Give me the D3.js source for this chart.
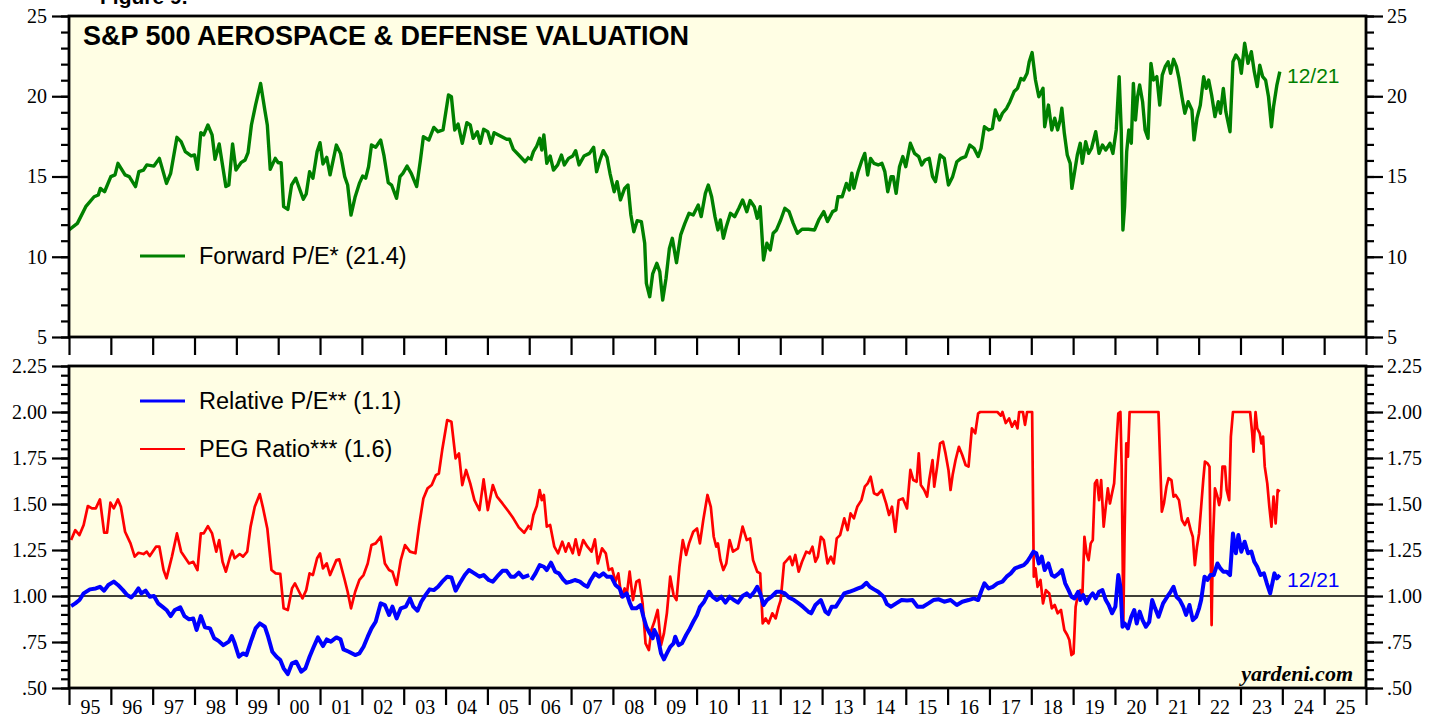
<!DOCTYPE html>
<html>
<head>
<meta charset="utf-8">
<script src="https://cdn.jsdelivr.net/npm/d3@7"></script>
<style>
  body { margin: 0; background: #fff; }
  svg { display: block; }
</style>
</head>
<body>
<div id="chart"></div>
<script>
// weekly-ish readings, [decimal year, value]; null marks a gap in the series
var forwardPE = [[1995.0,11.67],[1995.2,12.08],[1995.4,13.12],[1995.6,13.74],[1995.7,13.85],[1995.75,14.26],[1995.85,14.05],[1996.0,14.99],[1996.1,15.1],[1996.17,15.82],[1996.34,15.1],[1996.44,14.99],[1996.59,14.37],[1996.67,15.3],[1996.78,15.4],[1996.86,15.72],[1997.03,15.65],[1997.16,16.13],[1997.33,14.57],[1997.43,15.2],[1997.58,17.44],[1997.68,17.17],[1997.78,16.55],[1997.92,16.28],[1998.0,16.34],[1998.07,15.45],[1998.15,17.73],[1998.22,17.59],[1998.32,18.21],[1998.42,17.59],[1998.49,16.07],[1998.59,17.03],[1998.75,14.37],[1998.82,14.47],[1998.91,17.03],[1998.99,15.4],[1999.11,15.86],[1999.21,16.03],[1999.28,16.49],[1999.36,18.21],[1999.46,19.46],[1999.58,20.8],[1999.68,19.14],[1999.74,18.21],[1999.81,15.45],[1999.93,16.13],[2000.0,15.86],[2000.07,15.86],[2000.13,13.12],[2000.23,12.95],[2000.32,14.47],[2000.42,14.89],[2000.6,13.58],[2000.67,13.91],[2000.75,15.3],[2000.83,14.89],[2000.93,16.55],[2001.0,17.11],[2001.07,15.78],[2001.16,16.19],[2001.24,15.1],[2001.39,16.96],[2001.49,16.44],[2001.59,14.99],[2001.66,14.47],[2001.74,12.6],[2001.84,13.74],[2001.94,14.57],[2002.02,15.03],[2002.09,14.89],[2002.16,15.61],[2002.23,16.96],[2002.33,16.82],[2002.45,17.27],[2002.53,16.28],[2002.63,14.62],[2002.71,14.47],[2002.83,13.64],[2002.91,14.99],[2002.98,15.2],[2003.08,15.65],[2003.18,15.2],[2003.31,14.37],[2003.4,16.03],[2003.47,17.48],[2003.6,17.27],[2003.72,18.06],[2003.82,17.79],[2003.94,17.9],[2004.07,20.08],[2004.14,19.97],[2004.22,17.9],[2004.3,18.27],[2004.4,17.07],[2004.51,18.35],[2004.59,18.21],[2004.66,17.38],[2004.76,17.79],[2004.83,17.07],[2004.91,17.94],[2005.01,17.79],[2005.09,17.07],[2005.16,17.73],[2005.31,17.52],[2005.46,17.32],[2005.53,17.32],[2005.62,16.69],[2005.75,16.34],[2005.9,15.92],[2006.0,16.24],[2006.015,null],[2006.03,15.99],[2006.1,16.55],[2006.18,16.9],[2006.25,17.38],[2006.3,16.65],[2006.35,17.59],[2006.42,15.82],[2006.5,16.28],[2006.58,15.4],[2006.68,15.72],[2006.77,16.34],[2006.84,15.72],[2006.94,16.13],[2007.04,16.28],[2007.11,16.61],[2007.19,15.72],[2007.31,16.28],[2007.44,16.44],[2007.54,16.82],[2007.61,15.3],[2007.69,16.03],[2007.77,16.61],[2007.86,16.19],[2007.93,15.2],[2008.03,14.05],[2008.1,14.68],[2008.18,13.54],[2008.28,14.26],[2008.36,14.47],[2008.43,12.6],[2008.5,11.56],[2008.58,12.25],[2008.68,12.19],[2008.76,10.84],[2008.8,8.34],[2008.88,7.51],[2008.95,8.93],[2009.05,9.59],[2009.12,9.07],[2009.19,7.3],[2009.27,8.66],[2009.35,10.52],[2009.42,11.15],[2009.52,9.63],[2009.62,11.36],[2009.72,12.08],[2009.82,12.71],[2009.92,12.6],[2010.04,13.22],[2010.11,12.5],[2010.21,13.95],[2010.28,14.47],[2010.36,13.74],[2010.44,12.5],[2010.51,11.67],[2010.57,12.29],[2010.64,11.15],[2010.71,11.87],[2010.81,12.71],[2010.91,12.5],[2011.01,13.02],[2011.1,13.54],[2011.2,12.81],[2011.28,13.5],[2011.38,13.12],[2011.45,12.39],[2011.52,13.12],[2011.6,9.8],[2011.68,10.84],[2011.76,10.42],[2011.83,11.46],[2011.91,11.67],[2012.01,12.29],[2012.11,13.02],[2012.21,12.81],[2012.31,12.08],[2012.41,11.46],[2012.52,11.71],[2012.67,11.71],[2012.82,11.67],[2012.92,12.29],[2013.04,12.81],[2013.13,12.19],[2013.25,12.81],[2013.33,12.91],[2013.38,13.74],[2013.48,13.74],[2013.58,14.57],[2013.65,14.16],[2013.71,15.2],[2013.76,14.26],[2013.86,15.3],[2013.94,15.92],[2014.02,16.44],[2014.09,15.09],[2014.16,16.13],[2014.24,15.82],[2014.34,15.72],[2014.43,15.82],[2014.5,15.3],[2014.57,14.05],[2014.65,14.99],[2014.7,14.99],[2014.77,13.95],[2014.85,15.61],[2014.93,16.24],[2015.0,15.61],[2015.11,17.07],[2015.21,16.44],[2015.31,16.24],[2015.38,15.72],[2015.46,16.03],[2015.56,16.13],[2015.64,14.99],[2015.71,14.68],[2015.82,16.34],[2015.92,16.13],[2016.02,14.47],[2016.12,14.99],[2016.22,15.92],[2016.32,16.13],[2016.43,16.24],[2016.53,16.96],[2016.63,16.76],[2016.73,16.24],[2016.8,16.76],[2016.88,18.1],[2016.98,17.9],[2017.07,18.0],[2017.14,19.14],[2017.24,18.52],[2017.31,18.94],[2017.41,19.25],[2017.49,19.66],[2017.59,20.29],[2017.67,20.49],[2017.75,21.11],[2017.82,21.01],[2017.9,21.43],[2017.95,22.15],[2018.02,22.72],[2018.1,21.01],[2018.18,19.97],[2018.28,20.49],[2018.32,18.1],[2018.41,19.45],[2018.49,17.9],[2018.56,18.63],[2018.63,17.9],[2018.69,18.52],[2018.73,19.25],[2018.79,17.69],[2018.86,16.34],[2018.93,15.82],[2018.97,14.26],[2019.03,15.2],[2019.1,16.34],[2019.17,17.07],[2019.22,15.82],[2019.3,17.17],[2019.37,16.44],[2019.44,16.76],[2019.54,17.79],[2019.62,16.44],[2019.7,16.96],[2019.78,16.65],[2019.88,17.07],[2019.95,16.44],[2020.03,17.9],[2020.1,21.22],[2020.15,17.9],[2020.19,11.67],[2020.23,13.12],[2020.28,16.55],[2020.33,17.9],[2020.39,17.07],[2020.44,20.8],[2020.49,18.52],[2020.54,19.97],[2020.59,20.7],[2020.66,19.66],[2020.72,17.9],[2020.79,17.38],[2020.86,22.05],[2020.92,21.01],[2021.0,21.22],[2021.07,19.45],[2021.13,21.32],[2021.2,21.84],[2021.27,22.15],[2021.33,21.43],[2021.4,22.3],[2021.47,21.84],[2021.53,21.11],[2021.6,19.97],[2021.67,18.94],[2021.75,19.66],[2021.84,19.14],[2021.89,17.28],[2021.96,18.63],[2022.04,19.45],[2022.12,21.22],[2022.18,20.49],[2022.24,21.01],[2022.31,20.08],[2022.39,18.73],[2022.47,19.66],[2022.52,18.94],[2022.59,20.49],[2022.65,19.04],[2022.75,17.79],[2022.82,22.15],[2022.89,22.57],[2022.97,22.26],[2023.02,21.43],[2023.1,23.3],[2023.18,22.05],[2023.26,22.78],[2023.33,21.53],[2023.4,20.6],[2023.46,21.94],[2023.53,21.22],[2023.6,21.01],[2023.67,19.97],[2023.74,18.1],[2023.79,19.35],[2023.87,20.7],[2023.94,21.53]];

var relativePE = [[1995.05,0.945],[1995.15,0.96],[1995.25,0.978],[1995.35,1.014],[1995.5,1.036],[1995.64,1.041],[1995.74,1.05],[1995.84,1.029],[1995.94,1.06],[1996.07,1.078],[1996.17,1.06],[1996.29,1.032],[1996.39,1.005],[1996.49,0.992],[1996.57,1.011],[1996.66,1.041],[1996.73,1.014],[1996.83,1.029],[1996.93,0.996],[1997.03,1.0],[1997.13,0.96],[1997.23,0.942],[1997.33,0.924],[1997.43,0.891],[1997.53,0.924],[1997.66,0.938],[1997.76,0.891],[1997.87,0.873],[1997.97,0.878],[1998.05,0.815],[1998.15,0.891],[1998.25,0.83],[1998.37,0.824],[1998.47,0.77],[1998.57,0.757],[1998.69,0.733],[1998.82,0.752],[1998.89,0.782],[1998.96,0.743],[1999.06,0.67],[1999.16,0.688],[1999.24,0.679],[1999.36,0.761],[1999.46,0.824],[1999.56,0.851],[1999.68,0.833],[1999.76,0.779],[1999.86,0.697],[1999.96,0.67],[2000.05,0.652],[2000.13,0.607],[2000.23,0.576],[2000.33,0.634],[2000.43,0.643],[2000.55,0.589],[2000.65,0.607],[2000.75,0.67],[2000.85,0.724],[2000.95,0.775],[2001.07,0.728],[2001.16,0.764],[2001.26,0.752],[2001.39,0.775],[2001.49,0.764],[2001.56,0.71],[2001.69,0.697],[2001.84,0.679],[2001.94,0.688],[2002.04,0.724],[2002.14,0.779],[2002.23,0.824],[2002.33,0.86],[2002.45,0.96],[2002.55,0.951],[2002.65,0.897],[2002.73,0.942],[2002.83,0.878],[2002.93,0.933],[2003.05,0.942],[2003.15,0.987],[2003.23,0.942],[2003.33,0.92],[2003.42,0.969],[2003.52,1.005],[2003.62,1.036],[2003.72,1.032],[2003.82,1.05],[2003.92,1.078],[2004.04,1.105],[2004.14,1.101],[2004.24,1.029],[2004.34,1.069],[2004.46,1.114],[2004.56,1.141],[2004.69,1.123],[2004.81,1.105],[2004.91,1.114],[2005.03,1.087],[2005.13,1.078],[2005.23,1.105],[2005.36,1.137],[2005.46,1.137],[2005.56,1.105],[2005.65,1.105],[2005.75,1.127],[2005.85,1.101],[2006.0,1.114],[2006.02,null],[2006.05,1.087],[2006.15,1.123],[2006.25,1.168],[2006.35,1.159],[2006.42,1.141],[2006.52,1.181],[2006.62,1.132],[2006.71,1.123],[2006.81,1.09],[2006.89,1.072],[2006.99,1.078],[2007.09,1.087],[2007.21,1.078],[2007.31,1.06],[2007.39,1.05],[2007.47,1.087],[2007.57,1.123],[2007.67,1.105],[2007.77,1.123],[2007.86,1.105],[2007.96,1.105],[2008.06,1.06],[2008.16,1.041],[2008.23,0.996],[2008.33,1.014],[2008.4,0.964],[2008.46,0.933],[2008.56,0.933],[2008.66,0.951],[2008.73,0.887],[2008.8,0.833],[2008.88,0.797],[2008.95,0.77],[2008.99,0.815],[2009.07,0.779],[2009.15,0.688],[2009.22,0.656],[2009.29,0.688],[2009.37,0.724],[2009.45,0.743],[2009.49,0.779],[2009.57,0.733],[2009.65,0.743],[2009.75,0.788],[2009.82,0.815],[2009.92,0.86],[2010.01,0.897],[2010.08,0.94],[2010.18,0.969],[2010.26,1.005],[2010.3,1.023],[2010.38,0.996],[2010.49,0.978],[2010.59,0.996],[2010.69,0.964],[2010.79,0.996],[2010.89,0.978],[2010.99,0.964],[2011.1,1.0],[2011.2,1.014],[2011.28,0.996],[2011.38,1.023],[2011.45,1.05],[2011.52,1.014],[2011.6,0.951],[2011.68,0.978],[2011.79,0.996],[2011.91,1.023],[2012.01,1.023],[2012.11,1.014],[2012.21,0.992],[2012.33,0.978],[2012.44,0.96],[2012.54,0.942],[2012.67,0.915],[2012.74,0.906],[2012.84,0.951],[2012.97,0.978],[2013.08,0.915],[2013.15,0.902],[2013.23,0.942],[2013.33,0.942],[2013.43,0.978],[2013.53,1.014],[2013.65,1.023],[2013.76,1.032],[2013.86,1.041],[2013.96,1.05],[2014.06,1.072],[2014.14,1.05],[2014.24,1.036],[2014.34,1.023],[2014.47,0.996],[2014.55,0.956],[2014.65,0.942],[2014.77,0.96],[2014.9,0.978],[2015.03,0.975],[2015.16,0.978],[2015.28,0.942],[2015.41,0.942],[2015.54,0.96],[2015.66,0.978],[2015.79,0.982],[2015.92,0.969],[2016.07,0.978],[2016.22,0.951],[2016.35,0.969],[2016.5,0.978],[2016.63,0.987],[2016.73,0.978],[2016.8,1.023],[2016.88,1.069],[2016.98,1.041],[2017.08,1.05],[2017.19,1.069],[2017.31,1.078],[2017.41,1.105],[2017.51,1.123],[2017.61,1.15],[2017.71,1.159],[2017.82,1.168],[2017.9,1.186],[2017.98,1.214],[2018.05,1.241],[2018.12,1.232],[2018.18,1.177],[2018.25,1.214],[2018.32,1.141],[2018.41,1.177],[2018.49,1.114],[2018.56,1.105],[2018.66,1.123],[2018.73,1.141],[2018.81,1.069],[2018.89,1.032],[2018.96,0.996],[2019.03,0.987],[2019.12,1.023],[2019.17,0.978],[2019.24,1.005],[2019.32,0.96],[2019.4,0.996],[2019.47,1.014],[2019.54,0.987],[2019.62,1.023],[2019.7,1.032],[2019.78,0.978],[2019.85,0.951],[2019.93,0.906],[2020.01,0.942],[2020.08,1.114],[2020.13,1.05],[2020.18,0.833],[2020.23,0.851],[2020.31,0.824],[2020.39,0.887],[2020.46,0.924],[2020.52,0.851],[2020.59,0.915],[2020.66,0.869],[2020.74,0.833],[2020.82,0.86],[2020.89,0.978],[2020.96,0.933],[2021.04,0.887],[2021.15,0.96],[2021.25,0.996],[2021.33,1.023],[2021.4,1.05],[2021.47,0.996],[2021.55,0.978],[2021.63,0.942],[2021.7,0.897],[2021.78,0.951],[2021.86,0.869],[2021.94,0.887],[2022.01,0.933],[2022.06,0.978],[2022.14,1.105],[2022.21,1.087],[2022.28,1.114],[2022.36,1.114],[2022.45,1.177],[2022.52,1.15],[2022.59,1.132],[2022.67,1.132],[2022.75,1.114],[2022.82,1.34],[2022.89,1.232],[2022.95,1.331],[2023.02,1.241],[2023.1,1.295],[2023.18,1.232],[2023.26,1.241],[2023.33,1.186],[2023.4,1.159],[2023.48,1.114],[2023.56,1.123],[2023.63,1.069],[2023.71,1.014],[2023.77,1.078],[2023.81,1.123],[2023.87,1.096],[2023.94,1.114]];

var pegRatio = [[1995.05,1.304],[1995.15,1.358],[1995.25,1.331],[1995.35,1.386],[1995.45,1.489],[1995.55,1.476],[1995.64,1.476],[1995.74,1.525],[1995.84,1.344],[1995.91,1.344],[1995.99,1.507],[1996.07,1.476],[1996.17,1.525],[1996.24,1.485],[1996.34,1.349],[1996.47,1.286],[1996.57,1.214],[1996.66,1.235],[1996.78,1.228],[1996.86,1.241],[1996.93,1.217],[1997.08,1.268],[1997.16,1.268],[1997.26,1.141],[1997.33,1.096],[1997.46,1.214],[1997.58,1.34],[1997.68,1.241],[1997.87,1.177],[1997.97,1.186],[1998.07,1.141],[1998.15,1.34],[1998.22,1.34],[1998.32,1.38],[1998.42,1.34],[1998.52,1.241],[1998.59,1.304],[1998.67,1.186],[1998.75,1.132],[1998.85,1.214],[1998.9,1.246],[1998.96,1.205],[1999.08,1.228],[1999.16,1.214],[1999.26,1.241],[1999.34,1.377],[1999.44,1.485],[1999.56,1.554],[1999.64,1.476],[1999.74,1.367],[1999.84,1.141],[1999.94,1.123],[2000.05,1.12],[2000.13,0.933],[2000.23,0.924],[2000.33,1.041],[2000.4,1.069],[2000.5,1.023],[2000.58,0.987],[2000.67,1.032],[2000.75,1.123],[2000.83,1.114],[2000.93,1.205],[2001.0,1.232],[2001.07,1.15],[2001.16,1.177],[2001.24,1.114],[2001.39,1.195],[2001.46,1.199],[2001.59,1.087],[2001.66,1.023],[2001.74,0.933],[2001.84,1.023],[2001.94,1.087],[2002.04,1.114],[2002.14,1.177],[2002.23,1.277],[2002.33,1.286],[2002.45,1.322],[2002.55,1.177],[2002.65,1.141],[2002.73,1.132],[2002.83,1.06],[2002.93,1.195],[2003.03,1.277],[2003.15,1.241],[2003.28,1.232],[2003.37,1.386],[2003.47,1.53],[2003.57,1.585],[2003.67,1.603],[2003.77,1.657],[2003.84,1.666],[2003.92,1.793],[2004.04,1.956],[2004.14,1.947],[2004.24,1.748],[2004.32,1.775],[2004.4,1.603],[2004.49,1.685],[2004.59,1.612],[2004.69,1.521],[2004.81,1.467],[2004.91,1.634],[2005.01,1.467],[2005.13,1.603],[2005.23,1.54],[2005.36,1.503],[2005.51,1.458],[2005.62,1.422],[2005.75,1.373],[2005.88,1.344],[2006.0,1.386],[2006.015,null],[2006.03,1.358],[2006.1,1.44],[2006.18,1.489],[2006.25,1.576],[2006.3,1.521],[2006.35,1.549],[2006.42,1.377],[2006.5,1.386],[2006.6,1.268],[2006.69,1.232],[2006.79,1.295],[2006.87,1.241],[2006.94,1.286],[2007.04,1.232],[2007.11,1.308],[2007.19,1.223],[2007.29,1.304],[2007.39,1.268],[2007.49,1.241],[2007.57,1.308],[2007.64,1.177],[2007.74,1.259],[2007.83,1.232],[2007.9,1.141],[2007.98,1.15],[2008.06,1.078],[2008.13,1.123],[2008.2,0.996],[2008.28,1.041],[2008.33,1.005],[2008.4,1.132],[2008.48,0.978],[2008.56,1.078],[2008.63,1.087],[2008.71,0.96],[2008.78,0.743],[2008.86,0.706],[2008.92,0.815],[2008.99,0.86],[2009.07,0.924],[2009.15,0.733],[2009.22,0.797],[2009.29,0.906],[2009.37,1.105],[2009.45,1.005],[2009.52,0.978],[2009.59,1.159],[2009.67,1.304],[2009.75,1.223],[2009.82,1.286],[2009.92,1.349],[2010.01,1.367],[2010.08,1.286],[2010.16,1.413],[2010.26,1.549],[2010.34,1.485],[2010.41,1.322],[2010.47,1.268],[2010.51,1.286],[2010.57,1.195],[2010.64,1.141],[2010.71,1.177],[2010.79,1.304],[2010.87,1.241],[2010.99,1.259],[2011.1,1.377],[2011.2,1.304],[2011.28,1.313],[2011.35,1.195],[2011.45,1.132],[2011.52,1.123],[2011.58,0.851],[2011.65,0.878],[2011.72,0.851],[2011.81,0.906],[2011.89,0.878],[2011.96,0.942],[2012.01,0.978],[2012.09,1.177],[2012.16,1.195],[2012.23,1.214],[2012.29,1.168],[2012.36,1.223],[2012.44,1.132],[2012.52,1.186],[2012.62,1.241],[2012.7,1.232],[2012.77,1.268],[2012.84,1.186],[2012.9,1.214],[2012.97,1.322],[2013.04,1.304],[2013.13,1.177],[2013.21,1.214],[2013.28,1.177],[2013.35,1.313],[2013.43,1.331],[2013.53,1.422],[2013.61,1.358],[2013.68,1.449],[2013.76,1.422],[2013.84,1.485],[2013.94,1.521],[2014.02,1.594],[2014.09,1.612],[2014.16,1.648],[2014.24,1.558],[2014.32,1.549],[2014.43,1.576],[2014.53,1.503],[2014.6,1.44],[2014.67,1.485],[2014.75,1.349],[2014.83,1.521],[2014.93,1.53],[2015.03,1.476],[2015.11,1.685],[2015.18,1.63],[2015.26,1.621],[2015.31,1.775],[2015.36,1.603],[2015.44,1.576],[2015.51,1.54],[2015.56,1.63],[2015.64,1.739],[2015.68,1.594],[2015.75,1.703],[2015.82,1.829],[2015.89,1.839],[2015.95,1.775],[2016.02,1.685],[2016.07,1.576],[2016.12,1.657],[2016.19,1.739],[2016.27,1.811],[2016.35,1.766],[2016.43,1.712],[2016.5,1.703],[2016.58,1.911],[2016.66,1.884],[2016.73,1.993],[2016.78,2.0],[2017.19,2.0],[2017.27,1.98],[2017.31,2.0],[2017.39,1.94],[2017.47,1.965],[2017.54,1.92],[2017.61,1.95],[2017.67,1.911],[2017.71,2.0],[2017.8,2.0],[2017.85,1.93],[2017.9,2.0],[2018.02,2.0],[2018.06,1.105],[2018.1,1.15],[2018.15,1.05],[2018.22,1.087],[2018.28,0.96],[2018.35,1.032],[2018.43,1.014],[2018.49,0.933],[2018.56,0.951],[2018.63,0.906],[2018.71,0.924],[2018.79,0.815],[2018.86,0.788],[2018.91,0.761],[2018.96,0.679],[2019.01,0.688],[2019.06,0.942],[2019.12,1.014],[2019.17,1.032],[2019.22,0.996],[2019.27,1.322],[2019.32,1.232],[2019.37,1.195],[2019.42,1.286],[2019.47,1.304],[2019.52,1.612],[2019.57,1.63],[2019.62,1.521],[2019.67,1.63],[2019.73,1.377],[2019.78,1.485],[2019.83,1.585],[2019.88,1.503],[2019.93,1.558],[2019.98,1.612],[2020.03,1.811],[2020.08,1.993],[2020.13,2.0],[2020.16,1.703],[2020.2,0.851],[2020.23,1.34],[2020.27,1.829],[2020.31,1.757],[2020.35,2.0],[2021.04,2.0],[2021.12,1.458],[2021.17,1.503],[2021.23,1.594],[2021.28,1.64],[2021.35,1.63],[2021.4,1.54],[2021.45,1.549],[2021.53,1.521],[2021.6,1.413],[2021.67,1.386],[2021.74,1.422],[2021.81,1.358],[2021.86,1.322],[2021.91,1.168],[2021.96,1.268],[2022.01,1.34],[2022.06,1.485],[2022.11,1.63],[2022.15,1.73],[2022.21,1.721],[2022.26,1.703],[2022.31,0.842],[2022.34,1.286],[2022.39,1.585],[2022.45,1.54],[2022.49,1.494],[2022.53,1.54],[2022.57,1.703],[2022.63,1.703],[2022.67,1.576],[2022.73,1.521],[2022.77,1.866],[2022.82,2.0],[2023.23,2.0],[2023.28,1.884],[2023.31,1.784],[2023.36,2.0],[2023.4,1.911],[2023.46,1.884],[2023.5,1.829],[2023.54,1.866],[2023.58,1.703],[2023.64,1.612],[2023.69,1.485],[2023.74,1.377],[2023.79,1.54],[2023.84,1.395],[2023.89,1.576],[2023.94,1.567]];

var years = d3.range(1995, 2026);
var topTicks = [5, 10, 15, 20, 25];
var bottomTicks = [0.5, 0.75, 1.0, 1.25, 1.5, 1.75, 2.0, 2.25];

var width = 1440, height = 717;
var left = 69, right = 1366;
var topPanel = { y0: 16, y1: 337 };
var botPanel = { y0: 366, y1: 688 };
var bg = "#FFFEE4";
var serif = "'Liberation Serif', 'Times New Roman', serif";
var sans = "'Liberation Sans', Arial, sans-serif";

var svg = d3.select("#chart").append("svg")
  .attr("width", width)
  .attr("height", height);

var x = d3.scaleLinear().domain([1995, 2026]).range([left, right]);
var yTop = d3.scaleLinear().domain([5, 25]).range([topPanel.y1, topPanel.y0]);
var yBot = d3.scaleLinear().domain([0.5, 2.25]).range([botPanel.y1, botPanel.y0]);

// header, mostly above the top edge as in the source image
svg.append("text")
  .attr("x", 100).attr("y", 4)
  .style("font-family", sans).style("font-weight", "bold").style("font-size", "21px")
  .text("Figure 9.");

function panel(p, id) {
  svg.append("rect")
    .attr("x", left).attr("y", p.y0)
    .attr("width", right - left).attr("height", p.y1 - p.y0)
    .attr("fill", bg);
  svg.append("clipPath").attr("id", id)
    .append("rect")
    .attr("x", left).attr("y", p.y0)
    .attr("width", right - left).attr("height", p.y1 - p.y0);
}
panel(topPanel, "clipTop");
panel(botPanel, "clipBot");

function fmtBot(d) {
  var s = d.toFixed(2);
  return d < 1 ? s.slice(1) : s;
}

function yAxes(y, majors, minorStep, fmt) {
  var minors = d3.range(y.domain()[0], y.domain()[1] + 1e-9, minorStep);
  // left
  svg.append("g").attr("transform", "translate(" + left + ",0)")
    .call(d3.axisLeft(y).tickValues(minors).tickSize(8).tickFormat(""));
  svg.append("g").attr("transform", "translate(" + left + ",0)")
    .call(d3.axisLeft(y).tickValues(majors).tickSize(17).tickPadding(5).tickFormat(fmt));
  // right
  svg.append("g").attr("transform", "translate(" + right + ",0)")
    .call(d3.axisRight(y).tickValues(minors).tickSize(8).tickFormat(""));
  svg.append("g").attr("transform", "translate(" + right + ",0)")
    .call(d3.axisRight(y).tickValues(majors).tickSize(17).tickPadding(4).tickFormat(fmt));
}
yAxes(yTop, topTicks, 1, d3.format("d"));
yAxes(yBot, bottomTicks, 0.05, fmtBot);

// year ticks under both panels
svg.append("g").attr("transform", "translate(0," + topPanel.y1 + ")")
  .call(d3.axisBottom(x).tickValues(d3.range(1995, 2027)).tickSize(18).tickFormat(""));
svg.append("g").attr("transform", "translate(0," + botPanel.y1 + ")")
  .call(d3.axisBottom(x).tickValues(d3.range(1995, 2027)).tickSize(17).tickFormat(""));
svg.append("g").attr("transform", "translate(0," + botPanel.y1 + ")")
  .call(d3.axisBottom(x).tickValues(years.map(d => d + 0.5)).tickSize(0).tickPadding(12)
    .tickFormat(d => String(Math.floor(d) % 100).padStart(2, "0")));

svg.selectAll(".domain").remove();
svg.selectAll(".tick line").attr("stroke", "#000").attr("stroke-width", 2.2);
svg.selectAll(".tick text")
  .style("font-family", serif).style("font-size", "20px").attr("fill", "#000");

// 1.00 reference line
svg.append("line")
  .attr("x1", left).attr("x2", right)
  .attr("y1", yBot(1)).attr("y2", yBot(1))
  .attr("stroke", "#000").attr("stroke-width", 1.3);

function drawLine(data, y, color, w, clip) {
  var line = d3.line()
    .defined(d => d[1] !== null)
    .x(d => x(d[0]))
    .y(d => y(d[1]));
  svg.append("path")
    .datum(data)
    .attr("clip-path", "url(#" + clip + ")")
    .attr("fill", "none")
    .attr("stroke", color)
    .attr("stroke-width", w)
    .attr("stroke-linejoin", "round")
    .attr("d", line);
}
drawLine(forwardPE, yTop, "#008000", 3.4, "clipTop");
drawLine(pegRatio, yBot, "#FF0000", 2.7, "clipBot");
drawLine(relativePE, yBot, "#0000FF", 4, "clipBot");

// frames
[topPanel, botPanel].forEach(function (p) {
  svg.append("rect")
    .attr("x", left).attr("y", p.y0)
    .attr("width", right - left).attr("height", p.y1 - p.y0)
    .attr("fill", "none").attr("stroke", "#000").attr("stroke-width", 2.8);
});

// title
svg.append("text")
  .attr("x", 83).attr("y", 45)
  .style("font-family", sans).style("font-weight", "bold").style("font-size", "27px")
  .text("S&P 500 AEROSPACE & DEFENSE VALUATION");

// legends
function legend(yPos, color, w, label) {
  svg.append("line")
    .attr("x1", 140).attr("x2", 185)
    .attr("y1", yPos).attr("y2", yPos)
    .attr("stroke", color).attr("stroke-width", w);
  svg.append("text")
    .attr("x", 199).attr("y", yPos + 8)
    .style("font-family", sans).style("font-size", "23.5px")
    .text(label);
}
legend(256, "#008000", 3, "Forward P/E* (21.4)");
legend(401, "#0000FF", 3, "Relative P/E** (1.1)");
legend(449, "#FF0000", 2, "PEG Ratio*** (1.6)");

// end labels
svg.append("text")
  .attr("x", 1287).attr("y", 83)
  .style("font-family", sans).style("font-size", "21px").attr("fill", "#008000")
  .text("12/21");
svg.append("text")
  .attr("x", 1287).attr("y", 587)
  .style("font-family", sans).style("font-size", "21px").attr("fill", "#0000FF")
  .text("12/21");

svg.append("text")
  .attr("x", 1353).attr("y", 681)
  .attr("text-anchor", "end")
  .style("font-family", serif).style("font-weight", "bold").style("font-style", "italic")
  .style("font-size", "22px")
  .text("yardeni.com");
</script>
</body>
</html>
